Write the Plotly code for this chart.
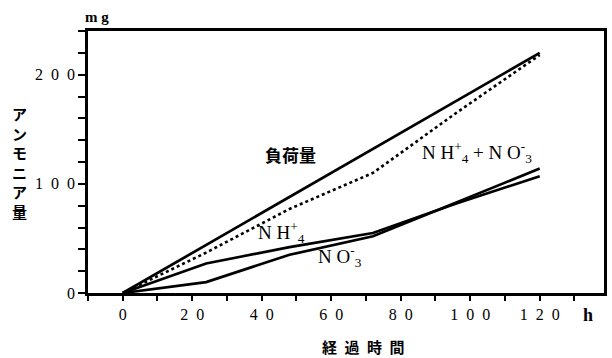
import plotly.graph_objects as go

hours = [0, 24, 48, 72, 96, 120]
load = [0, 44, 88, 132, 176, 220]
nh4_no3 = [0, 37, 77, 110, 165, 218]
nh4 = [0, 27, 42, 55, 82, 107]
no3 = [0, 10, 35, 52, 83, 114]

sp = "\u2002"
x_tick_vals = [0, 20, 40, 60, 80, 100, 120]
x_tick_text = ["0", sp.join("20"), sp.join("40"), sp.join("60"), sp.join("80"),
               sp.join("100"), sp.join("120")]
y_tick_vals = [0, 100, 200]
y_tick_text = ["0", sp.join("100"), sp.join("200")]

W, H = 612, 358
L, R, T, B = 88, 5, 31, 65
pw, ph = W - L - R, H - T - B

def px(x):
    return (x - L) / pw

def py(y):
    return (H - B - y) / ph

fig = go.Figure()
line_black = dict(color="black", width=2.7)
fig.add_trace(go.Scatter(x=hours, y=load, mode="lines", line=line_black))
fig.add_trace(go.Scatter(x=hours, y=nh4_no3, mode="lines",
                         line=dict(color="black", width=2.6, dash="dot")))
fig.add_trace(go.Scatter(x=hours, y=nh4, mode="lines", line=line_black))
fig.add_trace(go.Scatter(x=hours, y=no3, mode="lines", line=line_black))

serif = "Liberation Serif"
cjk = "Noto Sans CJK JP"

ann = [
    dict(x=48.3, y=127, xref="x", yref="y", text="<b>負荷量</b>",
         font=dict(family=cjk, size=17, color="black")),
    dict(x=102, y=129, xref="x", yref="y",
         text="N H<sup>+</sup><sub>4</sub> + N O<sup>-</sup><sub>3</sub>",
         font=dict(family=serif, size=19, color="black")),
    dict(x=45.7, y=55, xref="x", yref="y",
         text="N H<sup>+</sup><sub>4</sub>",
         font=dict(family=serif, size=19, color="black")),
    dict(x=62.6, y=33, xref="x", yref="y",
         text="N O<sup>-</sup><sub>3</sub>",
         font=dict(family=serif, size=19, color="black")),
    dict(x=px(97), y=py(17), xref="paper", yref="paper", text="<b>m g</b>",
         font=dict(family=serif, size=15, color="black")),
    dict(x=px(591), y=py(315), xref="paper", yref="paper", text="<b>h</b>",
         font=dict(family=serif, size=18, color="black")),
    dict(x=px(365), y=py(346), xref="paper", yref="paper",
         text="<b>経\u2002過\u2002時\u2002間</b>",
         font=dict(family=cjk, size=15, color="black")),
    dict(x=px(19), y=py(162), xref="paper", yref="paper",
         text="<b>ア<br>ン<br>モ<br>ニ<br>ア<br>量</b>",
         font=dict(family=cjk, size=15, color="black")),
]
for a in ann:
    a["showarrow"] = False
    a["xanchor"] = "center"
    a["yanchor"] = "middle"
    fig.add_annotation(**a)

fig.update_xaxes(range=[-10, 138.5], tickvals=x_tick_vals, ticktext=x_tick_text,
                 ticks="outside", ticklen=5, tickwidth=1.5, tickcolor="black",
                 minor=dict(dtick=10, tick0=0, ticks="outside", ticklen=5,
                            tickwidth=1.5, tickcolor="black"),
                 showline=True, linecolor="black", linewidth=2.5, mirror=True,
                 showgrid=False, zeroline=False,
                 tickfont=dict(family=serif, size=16, color="black"))
fig.update_yaxes(range=[0, 240], tickvals=y_tick_vals, ticktext=y_tick_text,
                 ticks="outside", ticklen=7, tickwidth=1.5, tickcolor="black",
                 minor=dict(dtick=20, tick0=0, ticks="outside", ticklen=7,
                            tickwidth=1.5, tickcolor="black"),
                 showline=True, linecolor="black", linewidth=2.5, mirror=True,
                 showgrid=False, zeroline=False,
                 tickfont=dict(family=serif, size=16, color="black"))

fig.update_layout(width=W, height=H, margin=dict(l=L, r=R, t=T, b=B),
                  plot_bgcolor="white", paper_bgcolor="white", showlegend=False)

fig.write_html("out.html", config={"displayModeBar": False},
               post_script="document.body.style.margin='0';"
                           "document.documentElement.style.overflow='hidden';")
